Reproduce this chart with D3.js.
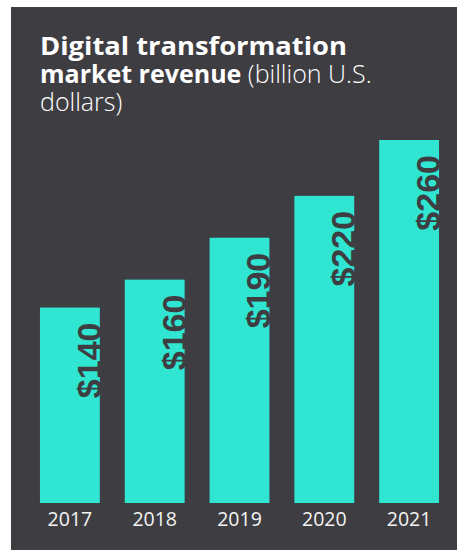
<!DOCTYPE html>
<html>
<head>
<meta charset="utf-8">
<script src="https://cdn.jsdelivr.net/npm/d3@7"></script>
<style>
  html, body { margin: 0; padding: 0; background: #ffffff; }
  svg { display: block; }
</style>
</head>
<body>
<svg id="chart" width="458" height="550"></svg>
<script>
// Revenue by year, billion U.S. dollars
const years = ["2017", "2018", "2019", "2020", "2021"];
const revenue = [140, 160, 190, 220, 260];
const valueLabels = ["$140", "$160", "$190", "$220", "$260"];

const W = 458, H = 550;
const svg = d3.select("#chart");

// Dark panel
svg.append("rect")
  .attr("x", 11).attr("y", 7)
  .attr("width", 446).attr("height", H - 7)
  .attr("fill", "#3e3d42");

// Title, three lines
const title = svg.append("g")
  .attr("fill", "#ffffff")
  .attr("font-family", "'Open Sans', 'Noto Sans', sans-serif")
  .attr("font-size", 25);
title.append("text").attr("x", 40).attr("y", 55)
  .attr("font-weight", 700).attr("textLength", 307).attr("lengthAdjust", "spacingAndGlyphs")
  .text("Digital transformation");
const l2 = title.append("text").attr("x", 40).attr("y", 83);
l2.append("tspan").attr("font-weight", 700).text("market revenue");
l2.append("tspan").attr("font-weight", 300).text(" (billion U.S.");
title.append("text").attr("x", 40).attr("y", 111)
  .attr("font-weight", 300).text("dollars)");

// Scales
const x = d3.scaleBand()
  .domain(years)
  .range([40 - 12.5, 439 + 12.5])
  .paddingInner(25 / 85)
  .paddingOuter(12.5 / 85);

const y = d3.scaleLinear()
  .domain([0, 260])
  .range([503, 140]);

const data = years.map((yr, i) => ({ year: yr, value: revenue[i], label: valueLabels[i] }));

// Bars
svg.append("g").selectAll("rect")
  .data(data)
  .join("rect")
  .attr("x", d => x(d.year))
  .attr("y", d => y(d.value))
  .attr("width", x.bandwidth())
  .attr("height", d => y(0) - y(d.value))
  .attr("fill", "#30e5d2");

// Rotated value labels along the right edge of each bar
svg.append("g").selectAll("text")
  .data(data)
  .join("text")
  .attr("transform", d => `translate(${x(d.year) + x.bandwidth() + 1},${y(d.value) + 15}) rotate(-90)`)
  .attr("text-anchor", "end")
  .attr("fill", "#3e3d42")
  .attr("font-family", "'Liberation Sans', Arial, sans-serif")
  .attr("font-weight", 700)
  .attr("font-size", 34)
  .text(d => d.label);

// Year axis
const axis = svg.append("g")
  .attr("transform", `translate(0,${y(0)})`)
  .call(d3.axisBottom(x).tickSize(0).tickPadding(9));
axis.select(".domain").remove();
axis.selectAll("text")
  .attr("fill", "#f4f4f4")
  .attr("font-family", "'Open Sans', 'Noto Sans', sans-serif")
  .attr("font-weight", 400)
  .attr("font-size", 19.5)
  .attr("dy", "0.71em");
</script>
</body>
</html>
